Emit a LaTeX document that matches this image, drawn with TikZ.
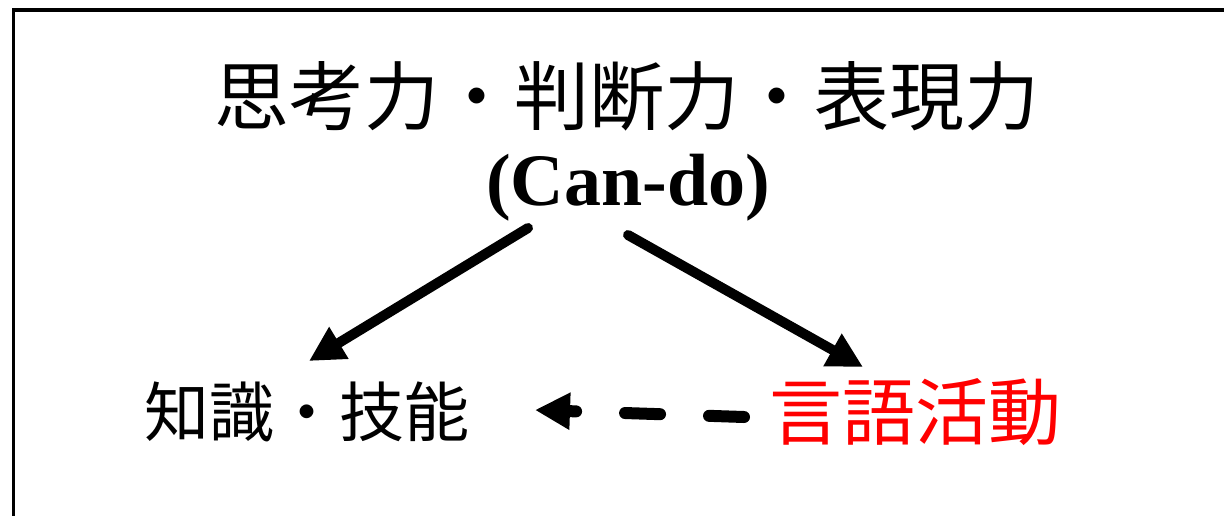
\documentclass[tikz,border=0pt]{standalone}
\usepackage{fontspec}
\setmainfont{Liberation Serif}
\newfontfamily\cjk{Noto Sans CJK JP}
\usetikzlibrary{arrows.meta}
\tikzset{
  frameline/.style={line width=3.5pt},
  bigarrow/.style={line width=10pt, line cap=round, -{Triangle[length=35pt,width=35pt]}},
  dasharrow/.style={line width=12pt, line cap=round, dash pattern=on 35pt off 49pt, -{Triangle[length=35pt,width=35pt]}},
  lbl/.style={inner sep=0pt, anchor=base}
}
\begin{document}
\begin{tikzpicture}[x=1pt,y=-1pt]
\useasboundingbox (0,0) rectangle (1224,515);
\fill[white] (0,0) rectangle (1224,515);
\draw[frameline, line join=miter] (13.7,530) -- (13.7,10) -- (1240,10);
\node[lbl] (title) at (627,124) {\cjk\fontsize{75}{80}\selectfont 思考力・判断力・表現力};
\node[lbl] (cando) at (628,205) {\fontsize{74}{80}\selectfont\bfseries (Can-do)};
\node[lbl] (chishiki) at (307,436) {\cjk\fontsize{65}{70}\selectfont 知識・技能};
\node[lbl, text={rgb,255:red,255;green,0;blue,0}] (gengo) at (915,439) {\cjk\fontsize{73}{78}\selectfont 言語活動};
\coordinate (a1s) at (528,228);
\coordinate (a1e) at (309,361);
\coordinate (a2s) at (628,235);
\coordinate (a2e) at (863,367);
\coordinate (a3s) at (744,417);
\coordinate (a3e) at (535,410);
\draw[bigarrow] (a1s) -- (a1e);
\draw[bigarrow] (a2s) -- (a2e);
\draw[dasharrow] (a3s) -- (a3e);
\end{tikzpicture}
\end{document}
